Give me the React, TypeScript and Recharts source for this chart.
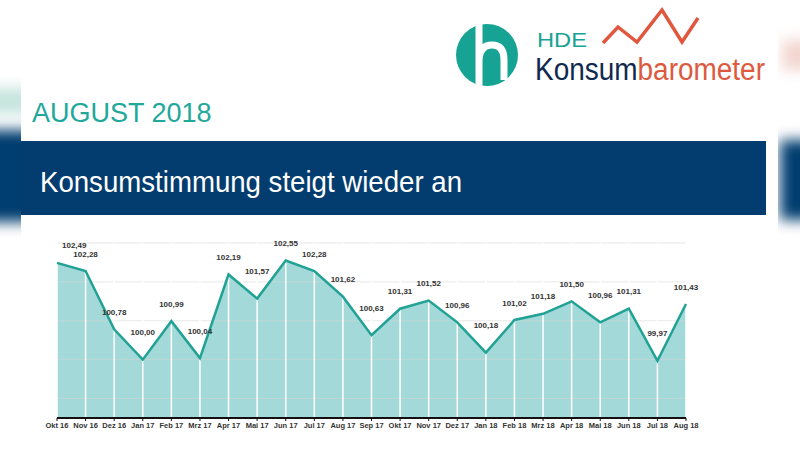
import { ComposedChart, Area, Line, XAxis, YAxis, CartesianGrid, LabelList } from 'recharts';

// HDE Konsumbarometer, Okt 2016 - Aug 2018
const MONTHS = [
  'Okt 16', 'Nov 16', 'Dez 16', 'Jan 17', 'Feb 17', 'Mrz 17', 'Apr 17', 'Mai 17',
  'Jun 17', 'Jul 17', 'Aug 17', 'Sep 17', 'Okt 17', 'Nov 17', 'Dez 17', 'Jan 18',
  'Feb 18', 'Mrz 18', 'Apr 18', 'Mai 18', 'Jun 18', 'Jul 18', 'Aug 18',
];

const INDEX_VALUES = [
  102.49, 102.28, 100.78, 100.0, 100.99, 100.04, 102.19, 101.57,
  102.55, 102.28, 101.62, 100.63, 101.31, 101.52, 100.96, 100.18,
  101.02, 101.18, 101.5, 100.96, 101.31, 99.97, 101.43,
];

const Y_TICKS = [98.5, 99, 99.5, 100, 100.5, 101, 101.5, 102, 102.5, 103];

const TEAL = '#21a295';
const FILL = '#a4d9d9';
const NAVY = '#033d6f';
const FONT = '"Liberation Sans", Arial, sans-serif';

const data = MONTHS.map((month, i) => ({ month, value: INDEX_VALUES[i] }));

const fmt = (v: number) => v.toFixed(2).replace('.', ',');

// labels sit higher over the dips, like in the original slide
const ValueLabel = (props: any) => {
  const x = props.x ?? props.viewBox?.x;
  const y = props.y ?? props.viewBox?.y;
  const index = props.index ?? 0;
  const value = INDEX_VALUES[index];
  const prev = INDEX_VALUES[index - 1];
  const next = INDEX_VALUES[index + 1];
  const dip = prev !== undefined && next !== undefined && value < prev && value < next;
  const first = index === 0;
  return (
    <text
      x={first ? x + 5 : x}
      y={y + (dip ? -27 : -17)}
      textAnchor={first ? 'start' : 'middle'}
      dominantBaseline="central"
      fontFamily={FONT}
      fontSize={8}
      fontWeight="bold"
      fill="#333"
    >
      {fmt(value)}
    </text>
  );
};

function Slide() {
  return (
    <svg width={800} height={450} style={{ position: 'absolute', left: 0, top: 0 }}>
      <defs>
        <filter id="soft" x="-50%" y="-50%" width="200%" height="200%">
          <feGaussianBlur stdDeviation="7" />
        </filter>
      </defs>

      {/* blurred backdrop at the edges */}
      <rect x={-30} y={130} width={70} height={92} fill={NAVY} filter="url(#soft)" />
      <rect x={-30} y={88} width={70} height={26} fill="#c6e4de" filter="url(#soft)" />
      <rect x={780} y={140} width={60} height={80} fill={NAVY} filter="url(#soft)" />
      <rect x={782} y={40} width={40} height={30} fill="#f3d6d0" filter="url(#soft)" />

      {/* slide */}
      <rect x={21} y={0} width={757} height={450} fill="#fff" />

      {/* logo */}
      <circle cx={487} cy={55} r={31} fill="#17a394" />
      <path
        d="M479 24 L479 86 M479 62 Q479 45 492 45 Q504 45 504 60 L504 80"
        stroke="#fff"
        strokeWidth={7}
        fill="none"
      />
      <text x={537} y={47} fontFamily={FONT} fontSize={20} fill="#17a394" textLength={50} lengthAdjust="spacingAndGlyphs">
        HDE
      </text>
      <polyline
        points="603,43 618,27 637,42 662,10 682,42 698,18"
        fill="none"
        stroke="#e0573d"
        strokeWidth={3.5}
      />
      <text x={535} y={80} fontFamily={FONT} fontSize={31} textLength={230} lengthAdjust="spacingAndGlyphs">
        <tspan fill="#10294f">Konsum</tspan>
        <tspan fill="#dd5a40">barometer</tspan>
      </text>

      {/* headline */}
      <text x={32} y={122} fontFamily={FONT} fontSize={27} fill="#22a89b">
        AUGUST 2018
      </text>
      <rect x={21} y={141} width={745} height={74} fill={NAVY} />
      <text x={40} y={192} fontFamily={FONT} fontSize={29} fill="#fff" textLength={422} lengthAdjust="spacingAndGlyphs">
        Konsumstimmung steigt wieder an
      </text>
    </svg>
  );
}

export default function App() {
  return (
    <div style={{ position: 'fixed', left: 0, top: 0, width: 800, height: 450, background: '#fff', overflow: 'hidden' }}>
      <Slide />
      <div style={{ position: 'absolute', left: 0, top: 200 }}>
        <ComposedChart
          width={800}
          height={250}
          data={data}
          margin={{ top: 43, right: 114, bottom: 2, left: 57 }}
        >
          <YAxis hide type="number" domain={[98.5, 103]} ticks={Y_TICKS} />
          <XAxis
            dataKey="month"
            interval={0}
            height={30}
            axisLine={{ stroke: '#111', strokeWidth: 2 }}
            tickLine={{ stroke: '#111' }}
            tickSize={3}
            tickMargin={2}
            tick={{ fontFamily: FONT, fontSize: 7.5, fontWeight: 'bold', fill: '#333' }}
          />
          <Area
            dataKey="value"
            type="linear"
            baseValue={98.5}
            stroke="none"
            fill={FILL}
            fillOpacity={1}
            isAnimationActive={false}
          />
          <CartesianGrid
            vertical={false}
            stroke="#d6d6d6"
            strokeOpacity={0.55}
            horizontalValues={Y_TICKS}
            zIndex={150}
          />
          <CartesianGrid horizontal={false} stroke="#fff" strokeWidth={1.5} zIndex={160} />
          <Line
            dataKey="value"
            type="linear"
            stroke={TEAL}
            strokeWidth={2.5}
            dot={false}
            activeDot={false}
            isAnimationActive={false}
          >
            <LabelList dataKey="value" content={ValueLabel} />
          </Line>
        </ComposedChart>
      </div>
    </div>
  );
}
